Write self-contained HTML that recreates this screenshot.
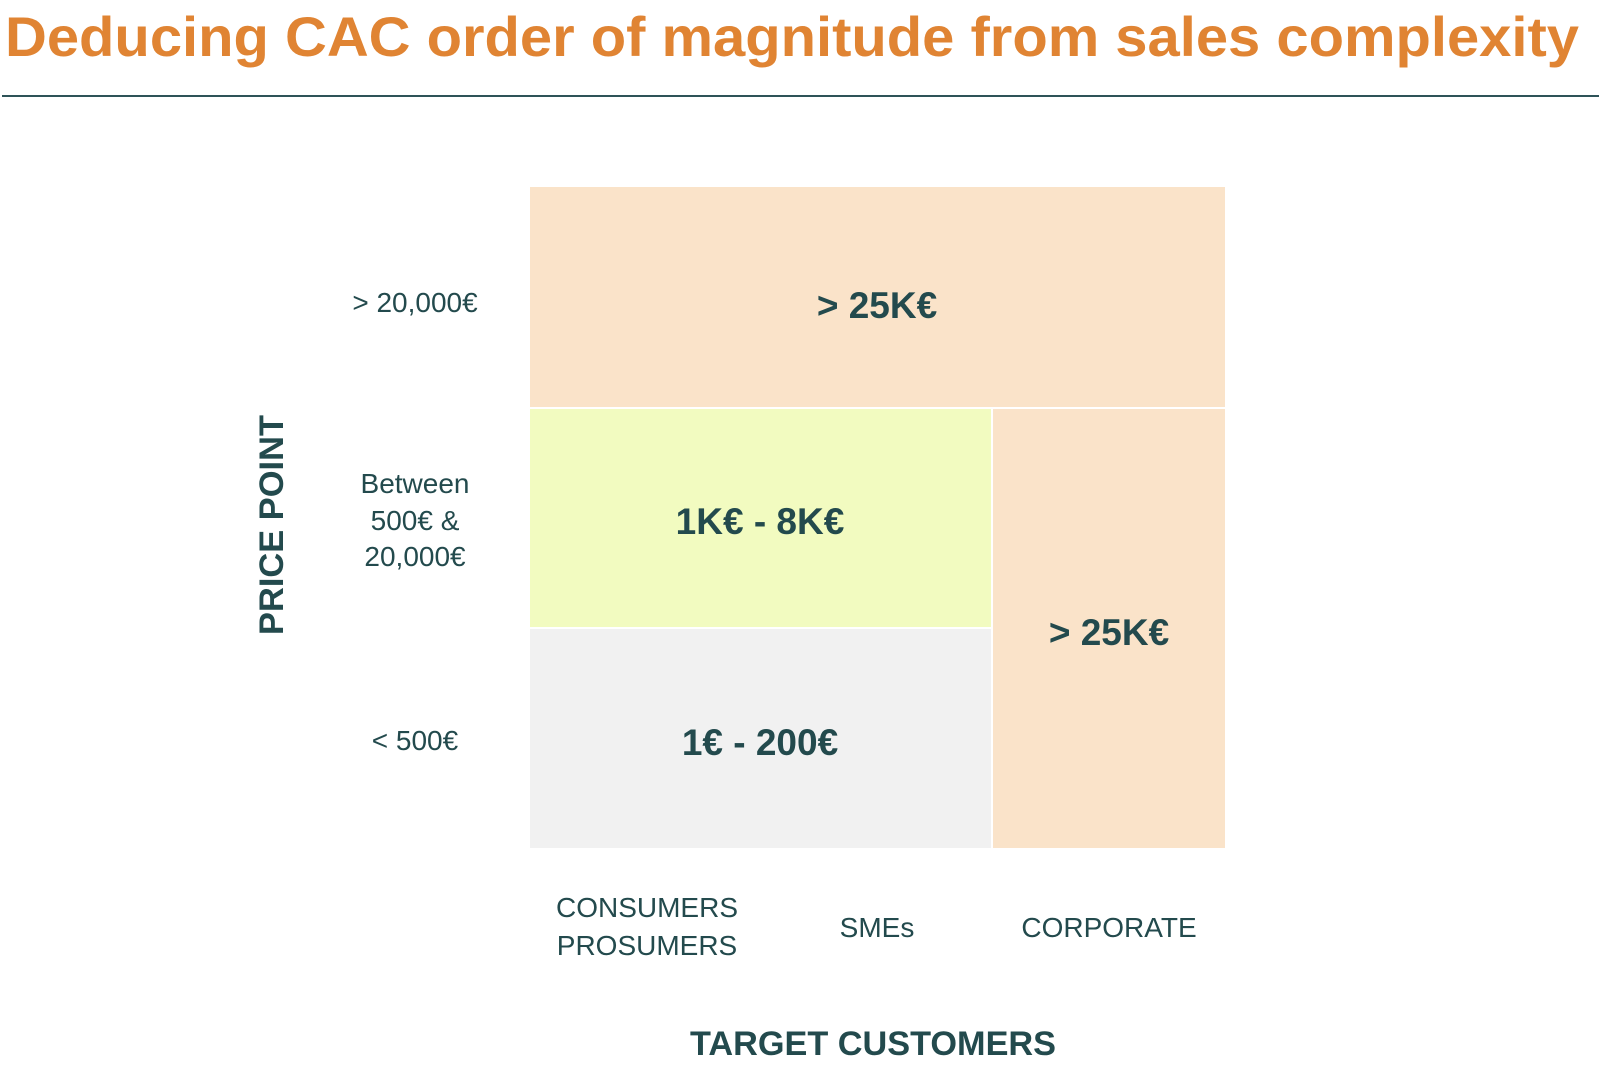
<!DOCTYPE html>
<html><head><meta charset="utf-8"><style>
html,body{margin:0;padding:0;background:#fff;}
svg{display:block;}
text{font-family:"Liberation Sans",sans-serif;fill:#234a4d;}
</style></head><body>
<svg width="1600" height="1089" viewBox="0 0 1600 1089" xmlns="http://www.w3.org/2000/svg">
<text x="5" y="56" font-size="56" font-weight="bold" style="fill:#e08433" textLength="1574" lengthAdjust="spacingAndGlyphs">Deducing CAC order of magnitude from sales complexity</text>
<rect x="2" y="95" width="1597" height="2" fill="#2e5358"/>
<rect x="530" y="187" width="695" height="220" fill="#fae3c9"/>
<rect x="530" y="409" width="461" height="218" fill="#f2fbc0"/>
<rect x="530" y="629" width="461" height="219" fill="#f1f1f1"/>
<rect x="993" y="409" width="232" height="439" fill="#fae3c9"/>
<text x="877" y="318" font-size="37" font-weight="bold" text-anchor="middle">&gt; 25K€</text>
<text x="760" y="534" font-size="37" font-weight="bold" text-anchor="middle">1K€ - 8K€</text>
<text x="760" y="755" font-size="37" font-weight="bold" text-anchor="middle">1€ - 200€</text>
<text x="1109" y="645" font-size="37" font-weight="bold" text-anchor="middle">&gt; 25K€</text>
<text x="415" y="312" font-size="28" text-anchor="middle">&gt; 20,000€</text>
<text x="415" y="493" font-size="28" text-anchor="middle">Between</text>
<text x="415" y="530" font-size="28" text-anchor="middle">500€ &amp;</text>
<text x="415" y="566" font-size="28" text-anchor="middle">20,000€</text>
<text x="415" y="750" font-size="28" text-anchor="middle">&lt; 500€</text>
<text transform="translate(283,525) rotate(-90)" font-size="34" font-weight="bold" text-anchor="middle" textLength="220" lengthAdjust="spacingAndGlyphs">PRICE POINT</text>
<text x="647" y="917" font-size="28" text-anchor="middle">CONSUMERS</text>
<text x="647" y="955" font-size="28" text-anchor="middle">PROSUMERS</text>
<text x="877" y="937" font-size="28" text-anchor="middle">SMEs</text>
<text x="1109" y="937" font-size="28" text-anchor="middle">CORPORATE</text>
<text x="873" y="1055" font-size="34" font-weight="bold" text-anchor="middle" textLength="366" lengthAdjust="spacingAndGlyphs">TARGET CUSTOMERS</text>
</svg>
</body></html>
